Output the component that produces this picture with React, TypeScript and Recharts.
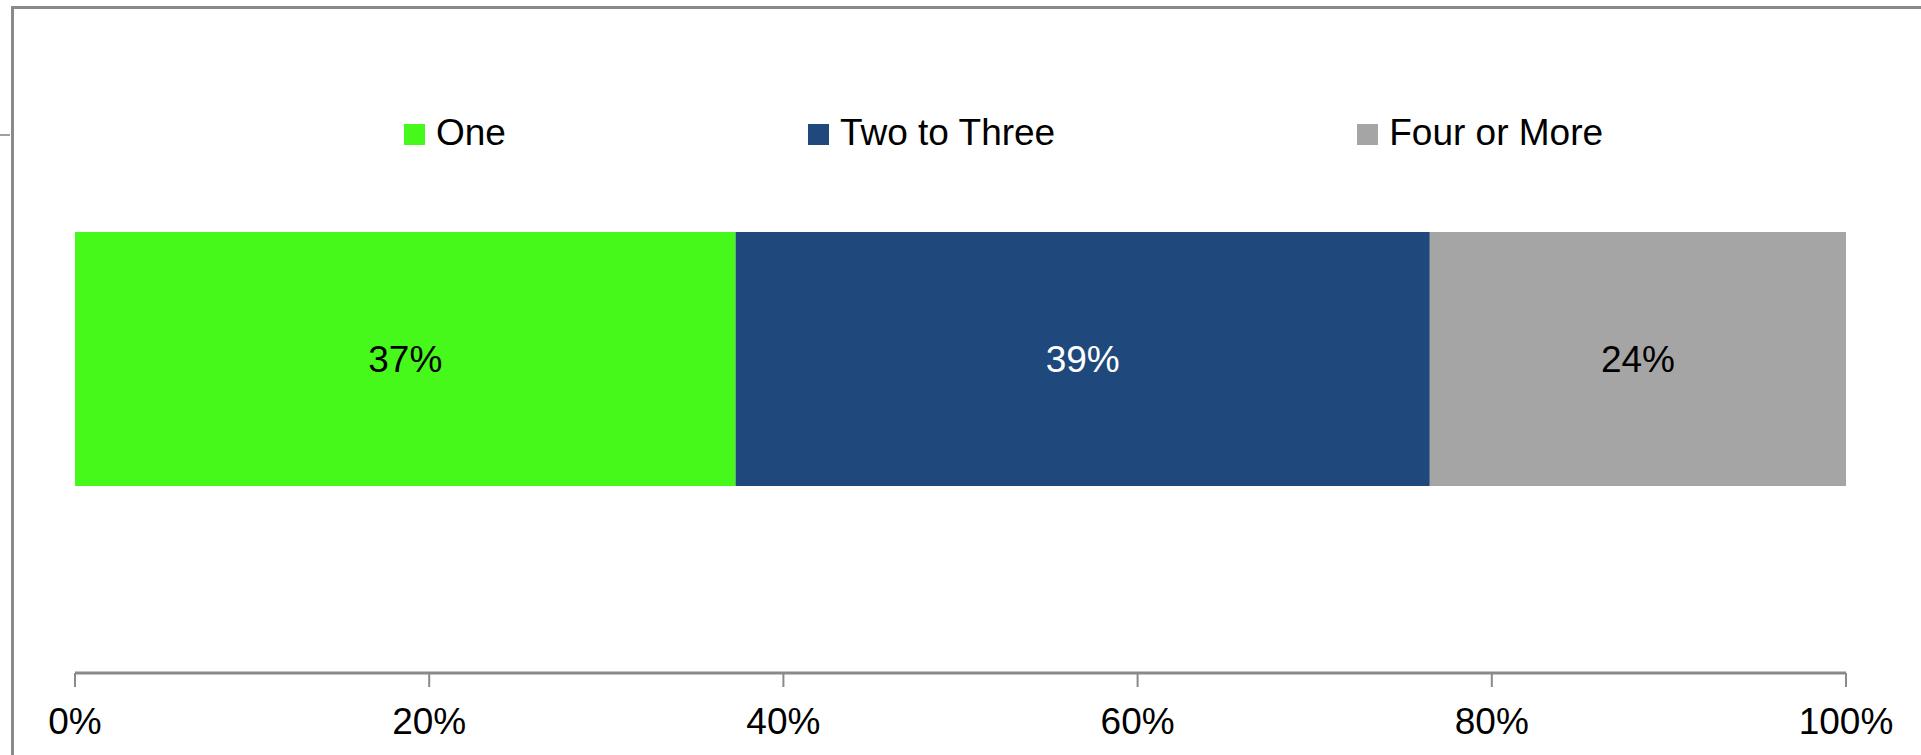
import { BarChart, Bar, XAxis, YAxis, Legend, LabelList } from 'recharts'

const categories = ['Households']
const seriesNames = ['One', 'Two to Three', 'Four or More']
const seriesValues = [0.373, 0.392, 0.235]
const seriesLabels = ['37%', '39%', '24%']
const seriesColors = ['#47f91b', '#1f497d', '#a5a5a5']
const labelColors = ['#000000', '#ffffff', '#000000']
const xTicks = [0, 0.2, 0.4, 0.6, 0.8, 1]

const FONT = '"Liberation Sans", Arial, sans-serif'

const data = categories.map((name) => {
  const row: Record<string, string | number> = { name }
  seriesNames.forEach((s, i) => { row[s] = seriesValues[i] })
  return row
})

function ChartLegend() {
  return (
    <div style={{ height: 0, position: 'relative' }}>
      <div
        style={{
          position: 'absolute', top: 114, left: 404, display: 'flex', alignItems: 'baseline',
          gap: 302, fontFamily: FONT, fontSize: 37, lineHeight: '37px', color: '#000', whiteSpace: 'nowrap',
        }}
      >
        {seriesNames.map((s, i) => (
          <div key={s} style={{ display: 'flex', alignItems: 'baseline' }}>
            <span style={{ display: 'inline-block', width: 21, height: 21, background: seriesColors[i], marginRight: 11 }} />
            <span>{s}</span>
          </div>
        ))}
      </div>
    </div>
  )
}

export default function App() {
  return (
    <div style={{ position: 'absolute', left: 0, top: 0, width: 1921, height: 755, background: '#fff', overflow: 'hidden' }}>
      {/* frame of the chart area, partly outside the view */}
      <div style={{ position: 'absolute', left: 11, top: 6, width: 2000, height: 800, borderTop: '3px solid #8a8a8a', borderLeft: '3px solid #8a8a8a' }} />
      <div style={{ position: 'absolute', left: 0, top: 134, width: 10, height: 2, background: '#a0a0a0' }} />
      <div style={{ position: 'absolute', left: 0, top: 0 }}>
        <BarChart
          width={1921}
          height={755}
          data={data}
          layout="vertical"
          margin={{ top: 45, right: 75, left: 75, bottom: 0 }}
          barSize={254}
        >
          <XAxis
            type="number"
            domain={[0, 1]}
            ticks={xTicks}
            tickFormatter={(v: number) => `${Math.round(v * 100)}%`}
            height={82}
            axisLine={{ stroke: '#8a8a8a', strokeWidth: 3 }}
            tickLine={{ stroke: '#8a8a8a', strokeWidth: 2 }}
            tickSize={14}
            tickMargin={21}
            tick={{ fill: '#000', fontSize: 37, fontFamily: FONT }}
            interval={0}
          />
          <YAxis type="category" dataKey="name" hide />
          <Legend content={() => <ChartLegend />} verticalAlign="top" wrapperStyle={{ left: 0, top: 0, width: 1921 }} />
          {seriesNames.map((s, i) => (
            <Bar key={s} dataKey={s} stackId="a" fill={seriesColors[i]} isAnimationActive={false}>
              <LabelList
                dataKey={s}
                position="center"
                formatter={() => seriesLabels[i]}
                fill={labelColors[i]}
                style={{ fontSize: 37, fontFamily: FONT }}
              />
            </Bar>
          ))}
        </BarChart>
      </div>
    </div>
  )
}
